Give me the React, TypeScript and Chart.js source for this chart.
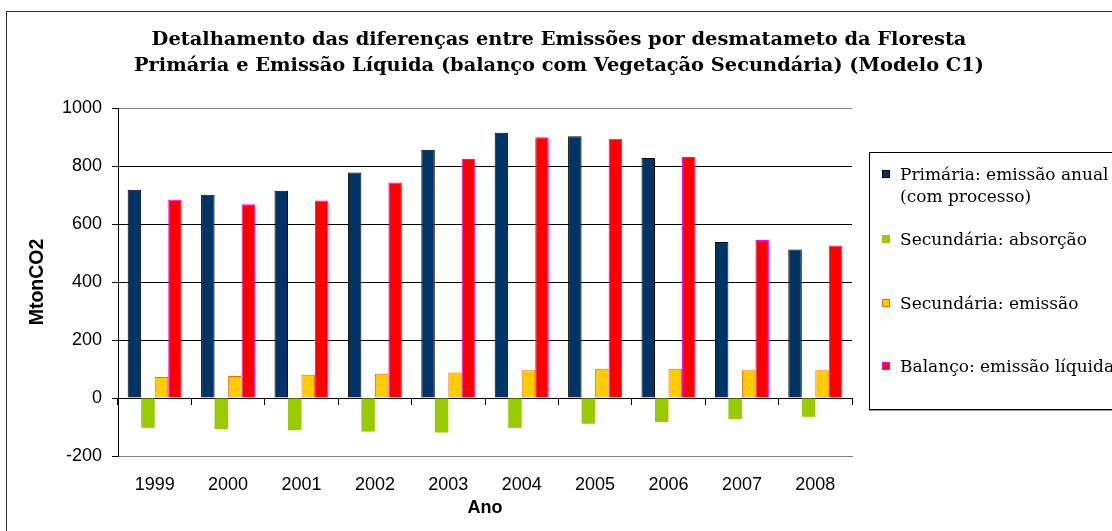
import { useEffect, useRef } from 'react';
import { Chart, registerables } from 'chart.js';

Chart.register(...registerables);

const years = ['1999', '2000', '2001', '2002', '2003', '2004', '2005', '2006', '2007', '2008'];
const primaria = [718, 701, 715, 778, 856, 915, 903, 828, 538, 512];
const absorcao = [-103, -107, -111, -116, -119, -103, -89, -83, -73, -65];
const emissaoSec = [72, 76, 80, 84, 88, 96, 101, 101, 96, 96];
const balanco = [684, 668, 681, 743, 824, 899, 894, 831, 545, 526];

const seriesLabels = [
  'Primária: emissão anual\n(com processo)',
  'Secundária: absorção',
  'Secundária: emissão',
  'Balanço: emissão líquida',
];
const fillColors = ['#003366', '#99CC00', '#FFCC00', '#FF0000'];
const edgeColors = ['#000000', '#99CC00', '#FF6600', '#FF00FF'];
const edgeWidths = [1, 0, 1, 1];

const titleLines = [
  'Detalhamento das diferenças entre Emissões por desmatameto da Floresta',
  'Primária e Emissão Líquida (balanço com Vegetação Secundária) (Modelo C1)',
];
const yTitle = 'MtonCO2';
const xTitle = 'Ano';
const yMin = -200;
const yMax = 1000;
const yStep = 200;

const legendRowCenters = [21, 86, 150, 213];

const sans = 'Liberation Sans, Arial, sans-serif';
const serif = 'DejaVu Serif, Georgia, serif';

export default function App() {
  const canvasRef = useRef<HTMLCanvasElement | null>(null);

  useEffect(() => {
    const canvas = canvasRef.current;
    if (!canvas) return;
    const seriesValues = [primaria, absorcao, emissaoSec, balanco];
    const chart = new Chart(canvas, {
      type: 'bar',
      data: {
        labels: years,
        datasets: seriesValues.map((vals, i) => ({
          label: seriesLabels[i].replace('\n', ' '),
          data: vals,
          backgroundColor: fillColors[i],
          borderColor: edgeColors[i],
          borderWidth: edgeWidths[i],
          categoryPercentage: 0.736,
          barPercentage: 1.0,
          xAxisID: 'x',
          yAxisID: 'y',
        })),
      },
      options: {
        responsive: false,
        animation: false,
        layout: { padding: { left: 6, right: 0, top: 0, bottom: 0 } },
        plugins: {
          legend: { display: false },
          tooltip: { enabled: false },
          title: {
            display: true,
            text: titleLines,
            color: '#000',
            font: { family: serif, weight: 'bold', size: 19.4, lineHeight: '26px' },
            padding: { top: 27, bottom: 29 },
          },
        },
        scales: {
          x: {
            type: 'category',
            position: 'bottom',
            offset: true,
            grid: {
              offset: true,
              drawTicks: false,
              color: (ctx: any) => (ctx.index === years.length ? '#808080' : 'rgba(0,0,0,0)'),
            },
            border: { display: true, color: '#808080' },
            ticks: {
              color: '#000',
              font: { family: sans, size: 18 },
              padding: 18,
              maxRotation: 0,
              autoSkip: false,
            },
            title: {
              display: true,
              text: xTitle,
              color: '#000',
              font: { family: sans, size: 18, weight: 'bold' },
              padding: { top: 0, bottom: 12 },
            },
            afterFit: (s: any) => {
              s.height = 75;
            },
          },
          x0: {
            axis: 'x',
            type: 'category',
            position: { y: 0 },
            offset: true,
            grid: {
              offset: true,
              drawOnChartArea: false,
              drawTicks: true,
              tickLength: 6,
              tickColor: '#000',
              color: '#000',
            },
            border: { display: true, color: '#000' },
            ticks: { display: false },
          },
          y: {
            min: yMin,
            max: yMax,
            ticks: {
              stepSize: yStep,
              color: '#000',
              font: { family: sans, size: 18 },
              padding: 10,
              callback: (v: any) => String(v),
            },
            grid: {
              color: (ctx: any) =>
                ctx.tick && (ctx.tick.value === yMax || ctx.tick.value === yMin) ? '#808080' : '#000',
              tickColor: '#000',
              tickLength: 6,
            },
            border: { display: true, color: '#000' },
            title: {
              display: true,
              text: yTitle,
              color: '#000',
              font: { family: sans, size: 19.5, weight: 'bold' },
              padding: { top: 20, bottom: 0 },
            },
            afterFit: (s: any) => {
              s.width = 112;
            },
          },
          yLegendSpace: {
            axis: 'y',
            position: 'right',
            min: yMin,
            max: yMax,
            display: true,
            ticks: { display: false },
            grid: { drawOnChartArea: false, drawTicks: false },
            border: { display: false },
            afterFit: (s: any) => {
              s.width = 260;
            },
          },
        },
      } as any,
    });
    return () => chart.destroy();
  }, []);

  return (
    <div
      style={{
        position: 'absolute',
        left: 0,
        top: 0,
        width: 1112,
        height: 531,
        overflow: 'hidden',
        background: '#fff',
      }}
    >
      <div
        style={{
          position: 'absolute',
          left: 6,
          top: 11,
          width: 2000,
          height: 2000,
          borderLeft: '1px solid #333',
          borderTop: '1px solid #333',
        }}
      />
      <canvas
        ref={canvasRef}
        width={1112}
        height={531}
        style={{ position: 'absolute', left: 0, top: 0, display: 'block' }}
      />
      <div
        style={{
          position: 'absolute',
          left: 869,
          top: 152,
          width: 300,
          height: 256,
          border: '1px solid #000',
          boxShadow: '0 1px 0 #999',
          background: '#fff',
        }}
      >
        {seriesLabels.map((lab, i) => (
          <div
            key={i}
            style={{
              position: 'absolute',
              left: 12,
              top: legendRowCenters[i] - 11,
              display: 'flex',
              alignItems: 'flex-start',
            }}
          >
            <div
              style={{
                width: edgeWidths[i] ? 6 : 8,
                height: edgeWidths[i] ? 6 : 8,
                marginTop: 7,
                background: fillColors[i],
                border: edgeWidths[i] ? `1px solid ${edgeColors[i]}` : 'none',
              }}
            />
            <div
              style={{
                marginLeft: 10,
                fontFamily: serif,
                fontSize: 17,
                lineHeight: '22px',
                whiteSpace: 'pre',
                color: '#000',
              }}
            >
              {lab}
            </div>
          </div>
        ))}
      </div>
    </div>
  );
}
